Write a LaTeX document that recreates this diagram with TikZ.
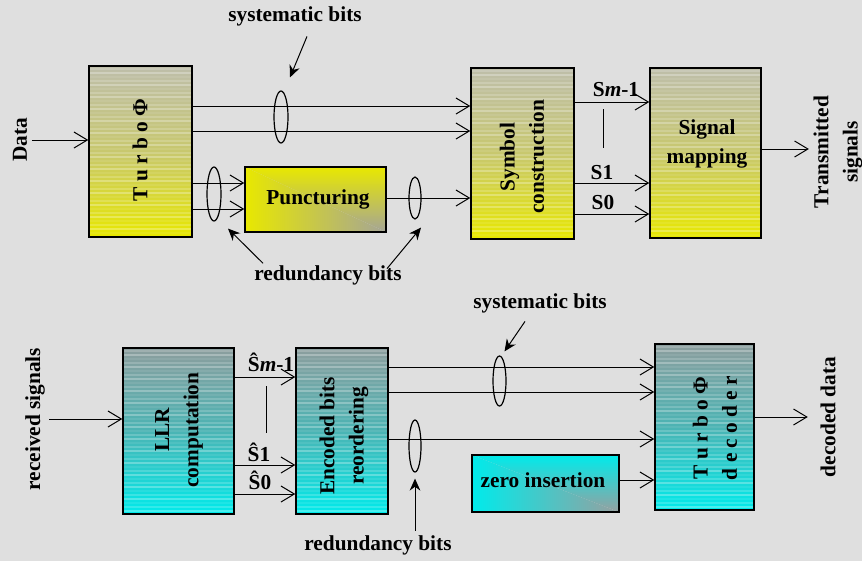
\documentclass[tikz,border=0pt]{standalone}
\usepackage{fontspec}
\setmainfont{Liberation Serif}
\usetikzlibrary{arrows.meta,shapes.geometric}
\definecolor{bg}{RGB}{223,223,223}
\definecolor{ytop}{RGB}{190,190,170}
\definecolor{ymid}{RGB}{200,200,110}
\definecolor{ybot}{RGB}{232,232,0}
\definecolor{ctop}{RGB}{140,158,158}
\definecolor{cmid}{RGB}{75,180,180}
\definecolor{cbot}{RGB}{0,235,235}
\definecolor{ygray}{RGB}{165,165,150}
\definecolor{cgray}{RGB}{150,160,160}
\tikzset{
  stripes/.style={path picture={
    \foreach \k in {1,...,42}
      \fill[white, opacity={0.08+0.1*mod(\k,3)}]
        ([yshift={-\k*3pt}]path picture bounding box.north west)
        rectangle ([yshift={-\k*3pt+1.3pt}]path picture bounding box.north east);}},
  yblock/.style={draw, line width=1.1pt, top color=ytop, bottom color=ybot, middle color=ymid, stripes},
  cblock/.style={draw, line width=1.1pt, top color=ctop, bottom color=cbot, middle color=cmid, stripes},
  cornerfill/.style 2 args={draw, line width=1.1pt, path picture={
    \shade[top color=#1, bottom color=#2] (path picture bounding box.north west)
      -- (path picture bounding box.north east) -- (path picture bounding box.south east) -- cycle;
    \shade[left color=#1, right color=#2] (path picture bounding box.north west)
      -- (path picture bounding box.south west) -- (path picture bounding box.south east) -- cycle;}},
  flow/.style={line width=0.75pt, -{Straight Barb[length=10pt,width=12pt]}},
  pointer/.style={line width=0.75pt, -{Stealth[length=9pt,width=8pt]}},
  bundle/.style={ellipse, draw, line width=0.9pt, inner sep=0pt}
}
\begin{document}
\begin{tikzpicture}[x=0.75pt,y=-0.75pt,
  every node/.style={font=\fontsize{16}{22}\selectfont\bfseries}]
  \fill[bg] (0,0) rectangle (862,561);
  \useasboundingbox (0,0) rectangle (862,561);
  % Transmitter blocks
  \node[yblock, minimum width=77.25pt, minimum height=128.25pt] (turbo) at (140.5,151.5) {};
  \node[cornerfill={ybot}{ygray}, minimum width=105.75pt, minimum height=48.75pt] (punct) at (315.5,199.5) {};
  \node[yblock, minimum width=77.25pt, minimum height=128.25pt] (sym) at (522.5,153.5) {};
  \node[yblock, minimum width=83.25pt, minimum height=127.5pt] (sigmap) at (705.5,153) {};
  \node[rotate=90] at (140,150) {T u r b o Φ};
  \node at (318,199) {Puncturing};
  \node[rotate=90, align=center] at (522,157) {Symbol\\construction};
  \node[align=center] at (707,144) {Signal\\mapping};
  \node[rotate=90] (data) at (20,140) {Data};
  \node[rotate=90, align=center] (tx) at (838,152) {Transmitted\\signals};
  % rows
  \coordinate (t1) at (0,106);
  \coordinate (t2) at (0,131);
  \coordinate (t3) at (0,183);
  \coordinate (t4) at (0,209);
  \coordinate (t5) at (0,198);
  \coordinate (s2) at (0,102);
  \coordinate (s1) at (0,183);
  \coordinate (s0) at (0,214);
  \coordinate (tout) at (0,149);
  \draw[flow] (data.south) -- (data.south -| turbo.west);
  \draw[flow] (turbo.east |- t1) -- (sym.west |- t1);
  \draw[flow] (turbo.east |- t2) -- (sym.west |- t2);
  \draw[flow] (turbo.east |- t3) -- (punct.west |- t3);
  \draw[flow] (turbo.east |- t4) -- (punct.west |- t4);
  \draw[flow] (punct.east |- t5) -- (sym.west |- t5);
  \draw[flow] (sym.east |- s2) -- (sigmap.west |- s2);
  \draw[flow] (sym.east |- s1) -- (sigmap.west |- s1);
  \draw[flow] (sym.east |- s0) -- (sigmap.west |- s0);
  \draw[flow] (sigmap.east |- tout) -- (tx.north |- tout);
  \node (lsm) at (616,90) {S\textit{m}-1};
  \node (ls1) at (602,173) {S1};
  \node (ls0) at (603,203) {S0};
  \draw[line width=0.75pt] (603,109) -- (603,148);
  \node[bundle, minimum width=10.5pt, minimum height=39pt] (e1) at (281,117) {};
  \node[bundle, minimum width=10.5pt, minimum height=40.5pt] (e2) at (214,194) {};
  \node[bundle, minimum width=9pt, minimum height=31.5pt] (e3) at (415,198) {};
  \node (sysT) at (295,16) {systematic bits};
  \node (redT) at (328,275) {redundancy bits};
  \draw[pointer] ([xshift=9pt,yshift=-4.5pt]sysT.south) -- ([xshift=6.75pt,yshift=9.75pt]e1.north);
  \draw[pointer] ([xshift=-48.75pt,yshift=-2pt]redT.north) -- ([xshift=10.5pt,yshift=-5.25pt]e2.south);
  \draw[pointer] ([xshift=44.25pt,yshift=-6pt]redT.north) -- ([xshift=4.5pt,yshift=-6pt]e3.south);
  % Receiver blocks
  \node[cblock, minimum width=83.25pt, minimum height=124.5pt] (llr) at (178.5,431) {};
  \node[cblock, minimum width=69pt, minimum height=124.5pt] (enc) at (342,431) {};
  \node[cblock, minimum width=74.25pt, minimum height=124.5pt] (dec) at (704.5,427) {};
  \node[cornerfill={cbot}{cgray}, minimum width=110.25pt, minimum height=42.75pt] (zero) at (545.5,483.5) {};
  \node[rotate=90, align=center] at (179,430) {LLR\\computation};
  \node[rotate=90, align=center] at (344,436) {Encoded bits\\reordering};
  \node[rotate=90, align=center] at (715,428) {T u r b o Φ\\d e c o d e r};
  \node at (543,480) {zero insertion};
  \node[rotate=90] (rx) at (35,419) {received signals};
  \node[rotate=90] (out) at (828,417) {decoded data};
  % rows
  \coordinate (b1) at (0,377);
  \coordinate (b2) at (0,465);
  \coordinate (b3) at (0,494);
  \coordinate (c1) at (0,367);
  \coordinate (c2) at (0,392);
  \coordinate (c3) at (0,439);
  \coordinate (c4) at (0,480);
  \draw[flow] (rx.south) -- (rx.south -| llr.west);
  \draw[flow] (llr.east |- b1) -- (enc.west |- b1);
  \draw[flow] (llr.east |- b2) -- (enc.west |- b2);
  \draw[flow] (llr.east |- b3) -- (enc.west |- b3);
  \draw[flow] (enc.east |- c1) -- (dec.west |- c1);
  \draw[flow] (enc.east |- c2) -- (dec.west |- c2);
  \draw[flow] (enc.east |- c3) -- (dec.west |- c3);
  \draw[flow] (zero.east |- c4) -- (dec.west |- c4);
  \draw[flow, shorten >=6pt] (dec.east |- out.north) -- (out.north);
  \node (lhm) at (271,362) {Ŝ\textit{m}-1};
  \node (lh1) at (259,452) {Ŝ1};
  \node (lh0) at (260,480) {Ŝ0};
  \draw[line width=0.75pt] (266,386) -- (266,433);
  \node[bundle, minimum width=9.75pt, minimum height=37.5pt] (e4) at (499.5,381) {};
  \node[bundle, minimum width=9pt, minimum height=39pt] (e5) at (415,446) {};
  \node (sysB) at (540,303) {systematic bits};
  \node (redB) at (378,545) {redundancy bits};
  \draw[pointer] ([xshift=-11.25pt,yshift=-3pt]sysB.south) -- ([xshift=3.75pt,yshift=3pt]e4.north);
  \draw[pointer] (redB.north -| e5) -- ([yshift=-4.5pt]e5.south);
\end{tikzpicture}
\end{document}
